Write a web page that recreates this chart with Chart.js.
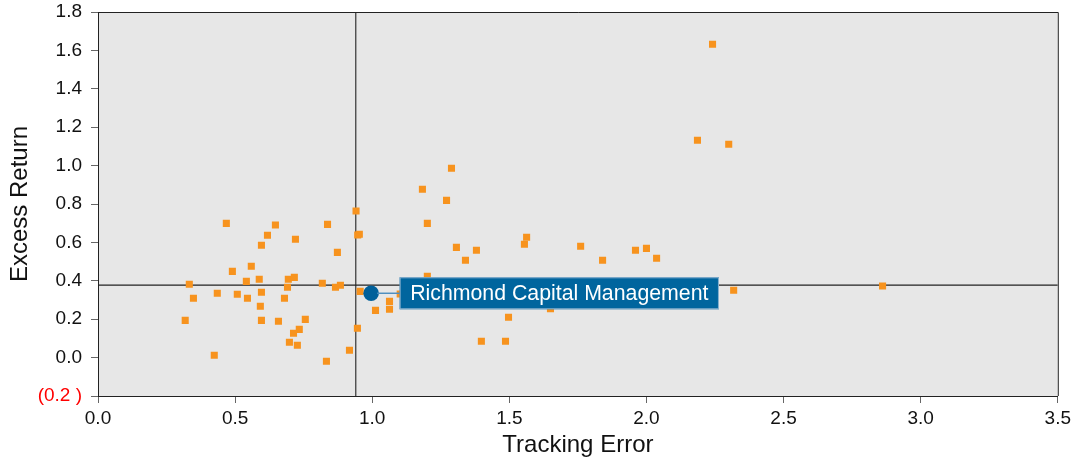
<!DOCTYPE html>
<html>
<head>
<meta charset="utf-8">
<title>Excess Return vs Tracking Error</title>
<script src="https://cdn.jsdelivr.net/npm/chart.js@4/dist/chart.umd.min.js"></script>
<style>
    html, body { margin: 0; padding: 0; background: #ffffff; }
    canvas { display: block; }
</style>
</head>
<body>
<canvas id="riskChart" width="1075" height="460"></canvas>
<script>
// Peer universe (tracking error, excess return)
const peerTrackingError = [
    0.941, 0.468, 0.647, 0.837, 0.618, 0.947, 0.953, 0.720, 0.596, 0.873,
    0.559, 0.490, 0.541, 0.588, 0.333, 0.694, 0.716, 0.691, 0.818, 0.866,
    0.884, 0.956, 0.348, 0.435, 0.508, 0.545, 0.596, 0.680, 0.592, 0.318,
    0.596, 0.658, 0.756, 0.734, 0.713, 0.946, 0.698, 0.727, 0.917, 0.424,
    0.833, 1.183, 1.271, 1.201, 1.563, 1.555, 1.307, 1.380, 1.760, 1.340,
    1.840, 1.960, 2.000, 2.037, 1.201, 1.063, 1.012, 1.063, 1.102, 1.650,
    1.497, 1.398, 1.486, 2.241, 2.186, 2.300, 1.289, 2.318, 2.861
];
const peerExcessReturn = [
    0.764, 0.699, 0.691, 0.694, 0.637, 0.639, 0.642, 0.616, 0.585, 0.548,
    0.476, 0.449, 0.397, 0.408, 0.382, 0.408, 0.418, 0.366, 0.387, 0.366,
    0.377, 0.345, 0.309, 0.335, 0.330, 0.309, 0.340, 0.309, 0.267, 0.194,
    0.194, 0.189, 0.199, 0.147, 0.127, 0.153, 0.080, 0.064, 0.038, 0.012,
    -0.019, 0.877, 0.819, 0.699, 0.627, 0.590, 0.574, 0.559, 0.580, 0.507,
    0.507, 0.559, 0.569, 0.517, 0.423, 0.293, 0.246, 0.252, 0.331, 0.255,
    0.210, 0.085, 0.085, 1.632, 1.132, 1.111, 0.986, 0.351, 0.373
];

// Manager being highlighted
const managerName = 'Richmond Capital Management';
const managerTrackingError = [0.996];
const managerExcessReturn = [0.335];

// Universe medians (cross-hair lines)
const medianTrackingError = 0.94;
const medianExcessReturn = 0.377;

// Axis ranges and tick steps
const xRange = [0, 3.5];
const yRange = [-0.2, 1.8];
const xStep = 0.5;
const yStep = 0.2;

const fontFamily = '"Liberation Sans", Arial, Helvetica, sans-serif';

function toPoints(xs, ys) {
    return xs.map((x, i) => ({ x: x, y: ys[i] }));
}

// Grey plot background plus top/right frame
const plotFrame = {
    id: 'plotFrame',
    beforeDraw(chart) {
        const { ctx, chartArea: a } = chart;
        ctx.save();
        ctx.fillStyle = '#e7e7e7';
        ctx.fillRect(a.left, a.top, a.right - a.left, a.bottom - a.top);
        ctx.restore();
    },
    afterDraw(chart) {
        const { ctx, chartArea: a } = chart;
        ctx.save();
        ctx.strokeStyle = '#222222';
        ctx.lineWidth = 1;
        ctx.beginPath();
        ctx.moveTo(a.left, a.top + 0.5);
        ctx.lineTo(a.right + 0.5, a.top + 0.5);
        ctx.lineTo(a.right + 0.5, a.bottom);
        ctx.stroke();
        ctx.restore();
    }
};

// Callout box next to the highlighted manager
const managerCallout = {
    id: 'managerCallout',
    afterDatasetsDraw(chart) {
        const meta = chart.getDatasetMeta(3);
        if (!meta || !meta.data.length) return;
        const p = meta.data[0];
        const ctx = chart.ctx;
        ctx.save();
        ctx.font = '21.3px ' + fontFamily;
        const textW = ctx.measureText(managerName).width;
        const boxX = p.x + 28.5;
        const boxH = 32;
        const boxY = p.y - 16;
        const boxW = textW + 21;

        // connector
        ctx.strokeStyle = '#4f8fbf';
        ctx.lineWidth = 1.5;
        ctx.beginPath();
        ctx.moveTo(p.x + 6, p.y);
        ctx.lineTo(boxX, p.y);
        ctx.stroke();

        // box
        ctx.fillStyle = '#00659e';
        ctx.fillRect(boxX, boxY, boxW, boxH);
        ctx.strokeStyle = '#8fb4d0';
        ctx.lineWidth = 1;
        ctx.strokeRect(boxX + 0.5, boxY + 0.5, boxW - 1, boxH - 1);

        // text
        ctx.fillStyle = '#ffffff';
        ctx.textAlign = 'left';
        ctx.textBaseline = 'middle';
        ctx.fillText(managerName, boxX + 10.5, boxY + boxH / 2 + 1);
        ctx.restore();
    }
};

function initializeChart() {
    const ctx = document.getElementById('riskChart');

    new Chart(ctx, {
        type: 'scatter',
        data: {
            datasets: [
                {
                    label: 'Median Tracking Error',
                    data: [{ x: medianTrackingError, y: yRange[0] }, { x: medianTrackingError, y: yRange[1] }],
                    showLine: true,
                    borderColor: '#333333',
                    borderWidth: 1.2,
                    pointRadius: 0,
                    order: 4
                },
                {
                    label: 'Median Excess Return',
                    data: [{ x: xRange[0], y: medianExcessReturn }, { x: xRange[1], y: medianExcessReturn }],
                    showLine: true,
                    borderColor: '#222222',
                    borderWidth: 1.2,
                    pointRadius: 0,
                    order: 3
                },
                {
                    label: 'Universe',
                    data: toPoints(peerTrackingError, peerExcessReturn),
                    pointStyle: 'rect',
                    pointRadius: 5,
                    backgroundColor: '#f7931e',
                    borderWidth: 0,
                    order: 2
                },
                {
                    label: managerName,
                    data: toPoints(managerTrackingError, managerExcessReturn),
                    pointStyle: 'circle',
                    pointRadius: 7.8,
                    backgroundColor: '#00609a',
                    borderWidth: 0,
                    order: 1
                }
            ]
        },
        options: {
            responsive: false,
            animation: false,
            devicePixelRatio: 1,
            layout: {
                padding: { top: 12, right: 17, left: 0, bottom: 0 }
            },
            plugins: {
                legend: { display: false },
                tooltip: { enabled: false }
            },
            scales: {
                x: {
                    type: 'linear',
                    min: xRange[0],
                    max: xRange[1],
                    afterFit(scale) { scale.height = 64; },
                    ticks: {
                        stepSize: xStep,
                        padding: 4,
                        color: '#111111',
                        font: { family: fontFamily, size: 19 },
                        callback: v => Number(v).toFixed(1)
                    },
                    grid: {
                        drawOnChartArea: false,
                        drawTicks: true,
                        tickLength: 7,
                        color: '#666666'
                    },
                    border: { display: true, color: '#222222', width: 1 },
                    title: {
                        display: true,
                        text: 'Tracking Error',
                        color: '#111111',
                        font: { family: fontFamily, size: 24 },
                        padding: { top: 0, bottom: 0 }
                    }
                },
                y: {
                    type: 'linear',
                    min: yRange[0],
                    max: yRange[1],
                    afterFit(scale) {
                        scale.width = 98;
                        scale.paddingTop = 0;
                        scale.paddingBottom = 0;
                    },
                    ticks: {
                        stepSize: yStep,
                        padding: 9,
                        font: { family: fontFamily, size: 19 },
                        color: c => (c.tick && c.tick.value < 0 ? '#ff0000' : '#111111'),
                        callback: v => (v < 0 ? '(' + Math.abs(v).toFixed(1) + ' )' : Number(v).toFixed(1))
                    },
                    grid: {
                        drawOnChartArea: false,
                        drawTicks: true,
                        tickLength: 7,
                        color: '#666666'
                    },
                    border: { display: true, color: '#222222', width: 1 },
                    title: {
                        display: true,
                        text: 'Excess Return',
                        color: '#111111',
                        font: { family: fontFamily, size: 24 },
                        padding: { top: 6, bottom: 0 }
                    }
                }
            }
        },
        plugins: [plotFrame, managerCallout]
    });
}

document.addEventListener('DOMContentLoaded', initializeChart);
</script>
</body>
</html>
